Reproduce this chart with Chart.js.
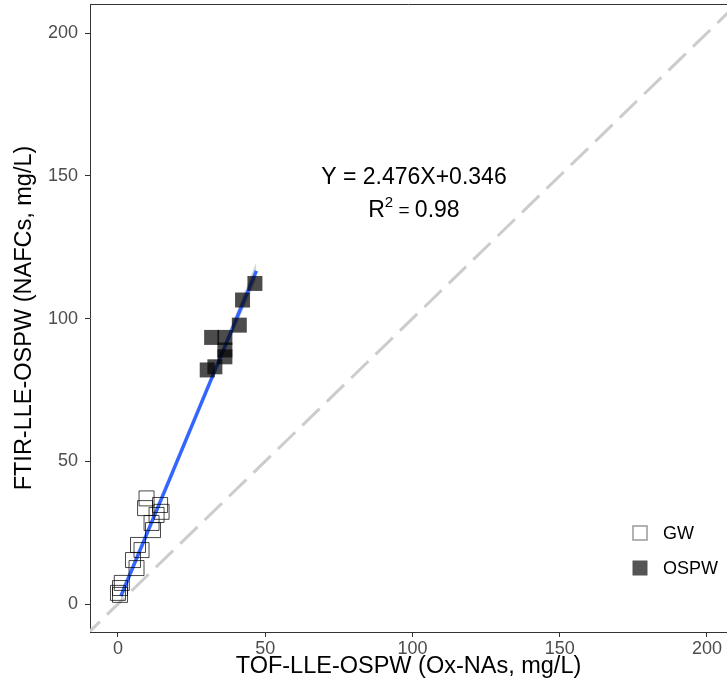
<!DOCTYPE html>
<html>
<head>
<meta charset="utf-8">
<script src="https://cdn.jsdelivr.net/npm/chart.js@4.4.1/dist/chart.umd.min.js"></script>
<style>
html, body { margin: 0; padding: 0; background: #fff; }
#wrap { width: 727px; height: 693px; }
</style>
</head>
<body>
<div id="wrap"><canvas id="scatterChart" width="727" height="693"></canvas></div>
<script>
// values
var gwX = [9.7, 9.2, 14.3, 14.8, 13.1, 11.4, 11.9, 6.8, 8.0, 5.1, 6.3, 1.3, 0.7, 0.0, 0.7];
var gwY = [37.0, 33.6, 34.7, 32.3, 31.2, 28.4, 25.9, 20.7, 18.9, 15.4, 12.6, 7.4, 5.6, 3.9, 3.2];
var ospwX = [46.5, 42.3, 41.2, 31.8, 36.3, 36.3, 36.3, 32.9, 30.3];
var ospwY = [112.3, 106.5, 97.7, 93.4, 93.4, 89.0, 86.6, 83.1, 82.0];
var xTicks = [0, 50, 100, 150, 200];
var yTicks = [0, 50, 100, 150, 200];

// fitted line from the equation printed on the chart
var fitSlope = 2.476, fitIntercept = 0.346;
var fitX = [1, 47];
var bandX = [1, 12, 24, 36, 47];
var bandHalf = [1.8, 1.0, 0.8, 1.6, 3.2];
var identX = [-12, 212];

function pts(xs, ys) {
    return xs.map(function (x, i) { return {x: x, y: ys[i]}; });
}
function fitAt(x) { return fitSlope * x + fitIntercept; }

var fitLine = fitX.map(function (x) { return {x: x, y: fitAt(x)}; });
var bandLow = bandX.map(function (x, i) { return {x: x, y: fitAt(x) - bandHalf[i]}; });
var bandHigh = bandX.map(function (x, i) { return {x: x, y: fitAt(x) + bandHalf[i]}; });
var identLine = identX.map(function (x) { return {x: x, y: x}; });

var fontName = "'Liberation Sans', Arial, sans-serif";

var decorPlugin = {
    id: 'decor',
    afterDraw: function (chart) {
        var ctx = chart.ctx, a = chart.chartArea;
        var xs = chart.scales.x, ys = chart.scales.y;
        ctx.save();
        // top panel border
        ctx.strokeStyle = '#333333';
        ctx.lineWidth = 1;
        ctx.beginPath();
        ctx.moveTo(a.left, a.top + 0.5);
        ctx.lineTo(a.right, a.top + 0.5);
        ctx.stroke();

        // equation text
        var cx = xs.getPixelForValue(100.5);
        var cy = ys.getPixelForValue(147);
        ctx.fillStyle = '#000';
        ctx.textBaseline = 'alphabetic';
        ctx.textAlign = 'center';
        ctx.font = '23px ' + fontName;
        ctx.fillText('Y = 2.476X+0.346', cx, cy);

        var y2 = cy + 33;
        ctx.textAlign = 'left';
        var big = '23px ' + fontName, sup = '15px ' + fontName, eq = '19px ' + fontName;
        ctx.font = big; var wR = ctx.measureText('R').width;
        ctx.font = sup; var w2 = ctx.measureText('2').width;
        ctx.font = eq; var wEq = ctx.measureText(' = ').width;
        ctx.font = big; var wV = ctx.measureText('0.98').width;
        var x0 = cx - (wR + w2 + wEq + wV) / 2;
        ctx.font = big; ctx.fillText('R', x0, y2);
        ctx.font = sup; ctx.fillText('2', x0 + wR, y2 - 10);
        ctx.font = eq; ctx.fillText(' = ', x0 + wR + w2, y2 - 1);
        ctx.font = big; ctx.fillText('0.98', x0 + wR + w2 + wEq, y2);

        // legend
        var lx = 640, rows = [533, 568];
        var sets = [chart.data.datasets[0], chart.data.datasets[1]];
        ctx.font = '18px ' + fontName;
        ctx.textBaseline = 'middle';
        sets.forEach(function (ds, i) {
            var yy = rows[i];
            if (i === 0) {
                ctx.strokeStyle = '#999999';
                ctx.lineWidth = 1.5;
                ctx.strokeRect(lx - 7, yy - 7, 14, 14);
            } else {
                ctx.fillStyle = '#555555';
                ctx.fillRect(lx - 7.5, yy - 7.5, 15, 15);
            }
            ctx.fillStyle = '#000';
            ctx.fillText(ds.label, 663, yy + 1);
        });
        ctx.restore();
    }
};

var ctx = document.getElementById('scatterChart').getContext('2d');
new Chart(ctx, {
    type: 'scatter',
    data: {
        datasets: [
            {
                label: 'GW',
                data: pts(gwX, gwY),
                pointStyle: 'rect',
                pointRadius: 10.6,
                pointHoverRadius: 10.6,
                backgroundColor: 'rgba(0,0,0,0)',
                borderColor: 'rgba(0,0,0,0.72)',
                borderWidth: 1,
                order: 0
            },
            {
                label: 'OSPW',
                data: pts(ospwX, ospwY),
                pointStyle: 'rect',
                pointRadius: 10.6,
                pointHoverRadius: 10.6,
                backgroundColor: 'rgba(0,0,0,0.7)',
                borderColor: 'rgba(0,0,0,0)',
                borderWidth: 0,
                order: 0
            },
            {
                label: 'fit',
                data: fitLine,
                showLine: true,
                pointRadius: 0,
                borderColor: '#3366FF',
                borderWidth: 3.5,
                order: 1
            },
            {
                label: 'bandLow',
                data: bandLow,
                showLine: true,
                pointRadius: 0,
                borderWidth: 0,
                borderColor: 'rgba(0,0,0,0)',
                order: 2
            },
            {
                label: 'bandHigh',
                data: bandHigh,
                showLine: true,
                pointRadius: 0,
                borderWidth: 0,
                borderColor: 'rgba(0,0,0,0)',
                backgroundColor: 'rgba(153,153,153,0.4)',
                fill: '-1',
                order: 2
            },
            {
                label: 'identity',
                data: identLine,
                showLine: true,
                pointRadius: 0,
                borderColor: '#cccccc',
                borderWidth: 3,
                borderDash: [24, 10],
                order: 3
            }
        ]
    },
    options: {
        responsive: false,
        animation: false,
        events: [],
        layout: { autoPadding: false, padding: { top: 4, right: 0, left: 0, bottom: 0 } },
        plugins: {
            legend: { display: false },
            tooltip: { enabled: false }
        },
        scales: {
            x: {
                type: 'linear',
                min: -9.5,
                max: 206.8,
                afterBuildTicks: function (s) { s.ticks = xTicks.map(function (v) { return {value: v}; }); },
                afterFit: function (s) { s.height = 61; s.paddingLeft = 0; s.paddingRight = 0; },
                grid: { drawOnChartArea: false, drawTicks: true, tickLength: 5, color: '#333333' },
                border: { display: true, color: '#333333', width: 1 },
                ticks: { color: '#4d4d4d', font: { family: fontName, size: 18 }, padding: 1, maxRotation: 0 },
                title: {
                    display: true,
                    text: 'TOF-LLE-OSPW (Ox-NAs, mg/L)',
                    color: '#000',
                    font: { family: fontName, size: 23.5 },
                    padding: { top: 0, bottom: 12 }
                }
            },
            y: {
                type: 'linear',
                min: -9.8,
                max: 210.2,
                afterBuildTicks: function (s) { s.ticks = yTicks.map(function (v) { return {value: v}; }); },
                afterFit: function (s) { s.width = 90; s.paddingTop = 0; s.paddingBottom = 0; },
                grid: { drawOnChartArea: false, drawTicks: true, tickLength: 5, color: '#333333' },
                border: { display: true, color: '#333333', width: 1 },
                ticks: { color: '#4d4d4d', font: { family: fontName, size: 18 }, padding: 7 },
                title: {
                    display: true,
                    text: 'FTIR-LLE-OSPW (NAFCs, mg/L)',
                    color: '#000',
                    font: { family: fontName, size: 23.5 },
                    padding: { top: 10, bottom: 0 }
                }
            }
        }
    },
    plugins: [decorPlugin]
});
</script>
</body>
</html>
